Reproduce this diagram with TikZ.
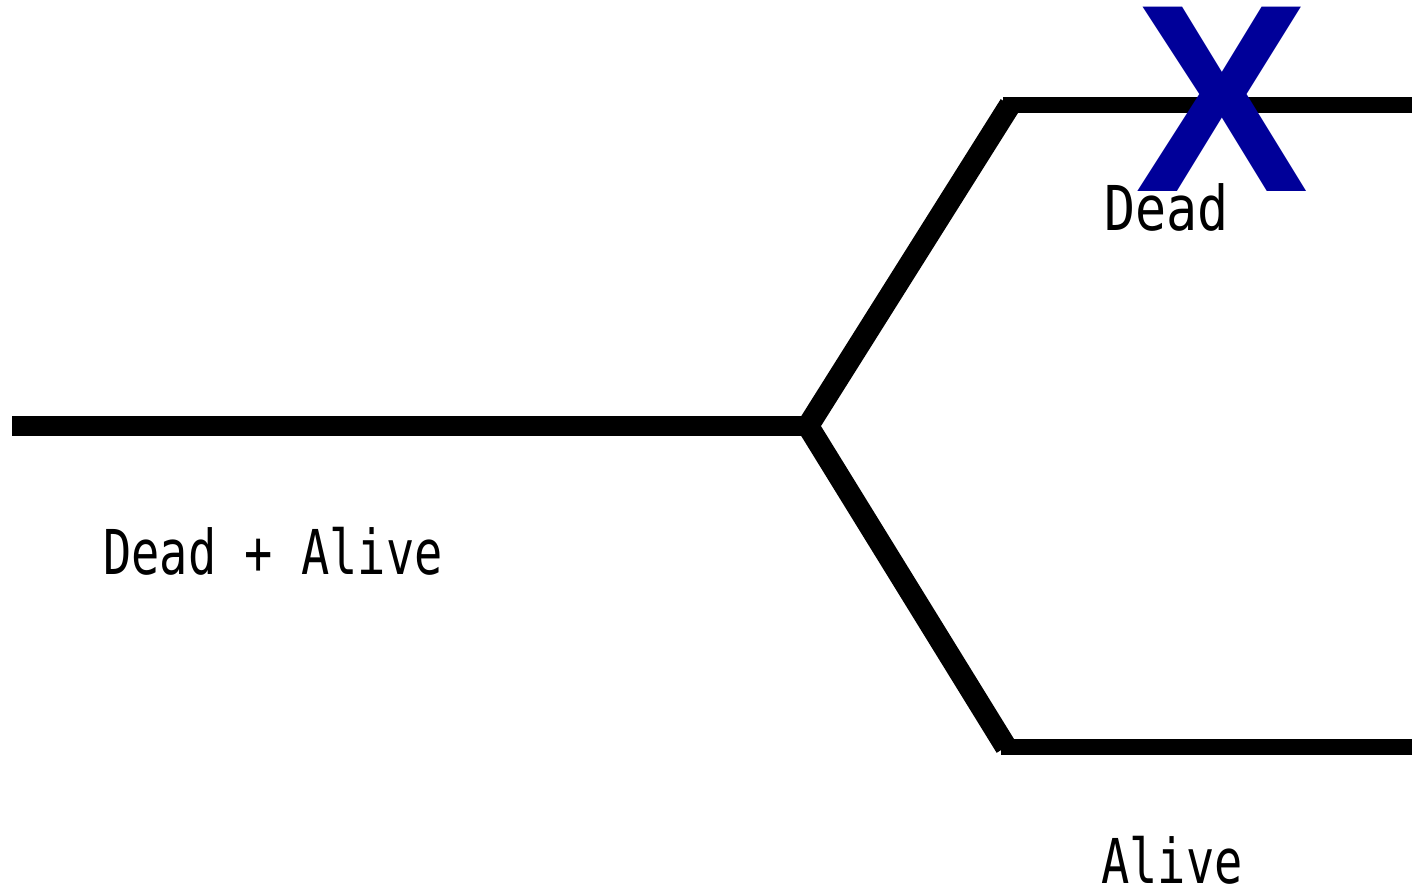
\documentclass[tikz,border=0pt]{standalone}
\usepackage{fontspec}
\newfontfamily\xfont{Liberation Sans}
\newfontfamily\pixfont{DejaVu Sans Mono}
\definecolor{xblue}{RGB}{0,0,153}
\begin{document}
\begin{tikzpicture}[x=0.5pt,y=-0.5pt,
  mainline/.style={line width=10pt,line cap=butt},
  diag/.style={line width=11pt,line join=miter,line cap=butt},
  branch/.style={line width=8pt,line cap=butt},
  lbl/.style={inner sep=0pt,anchor=base west,xscale=0.76,
    font=\pixfont\fontsize{30.9pt}{34pt}\selectfont},
  cross/.style={inner sep=0pt,anchor=base,text=xblue,xscale=0.97,
    font=\xfont\bfseries\fontsize{134pt}{136pt}\selectfont}]
\useasboundingbox (0,0) rectangle (1412,891);
\coordinate (start) at (12,426);
\coordinate (fork) at (808,426);
\coordinate (up) at (1010,105);
\coordinate (upstart) at (1003,105);
\coordinate (upend) at (1412,105);
\coordinate (down) at (1006,747);
\coordinate (downstart) at (1001,747);
\coordinate (downend) at (1412,747);
\draw[mainline] (start) -- (fork);
\draw[diag] (up) -- (fork) -- (down);
\draw[branch] (upstart) -- (upend);
\draw[branch] (downstart) -- (downend);
\node[cross] (x) at (1222,191) {X};
\node[lbl,xscale=1.1] (dead) at (1104,230) {Dead};
\node[lbl] (both) at (103,574) {Dead + Alive};
\node[lbl] (alive) at (1101,883) {Alive};
\end{tikzpicture}
\end{document}
